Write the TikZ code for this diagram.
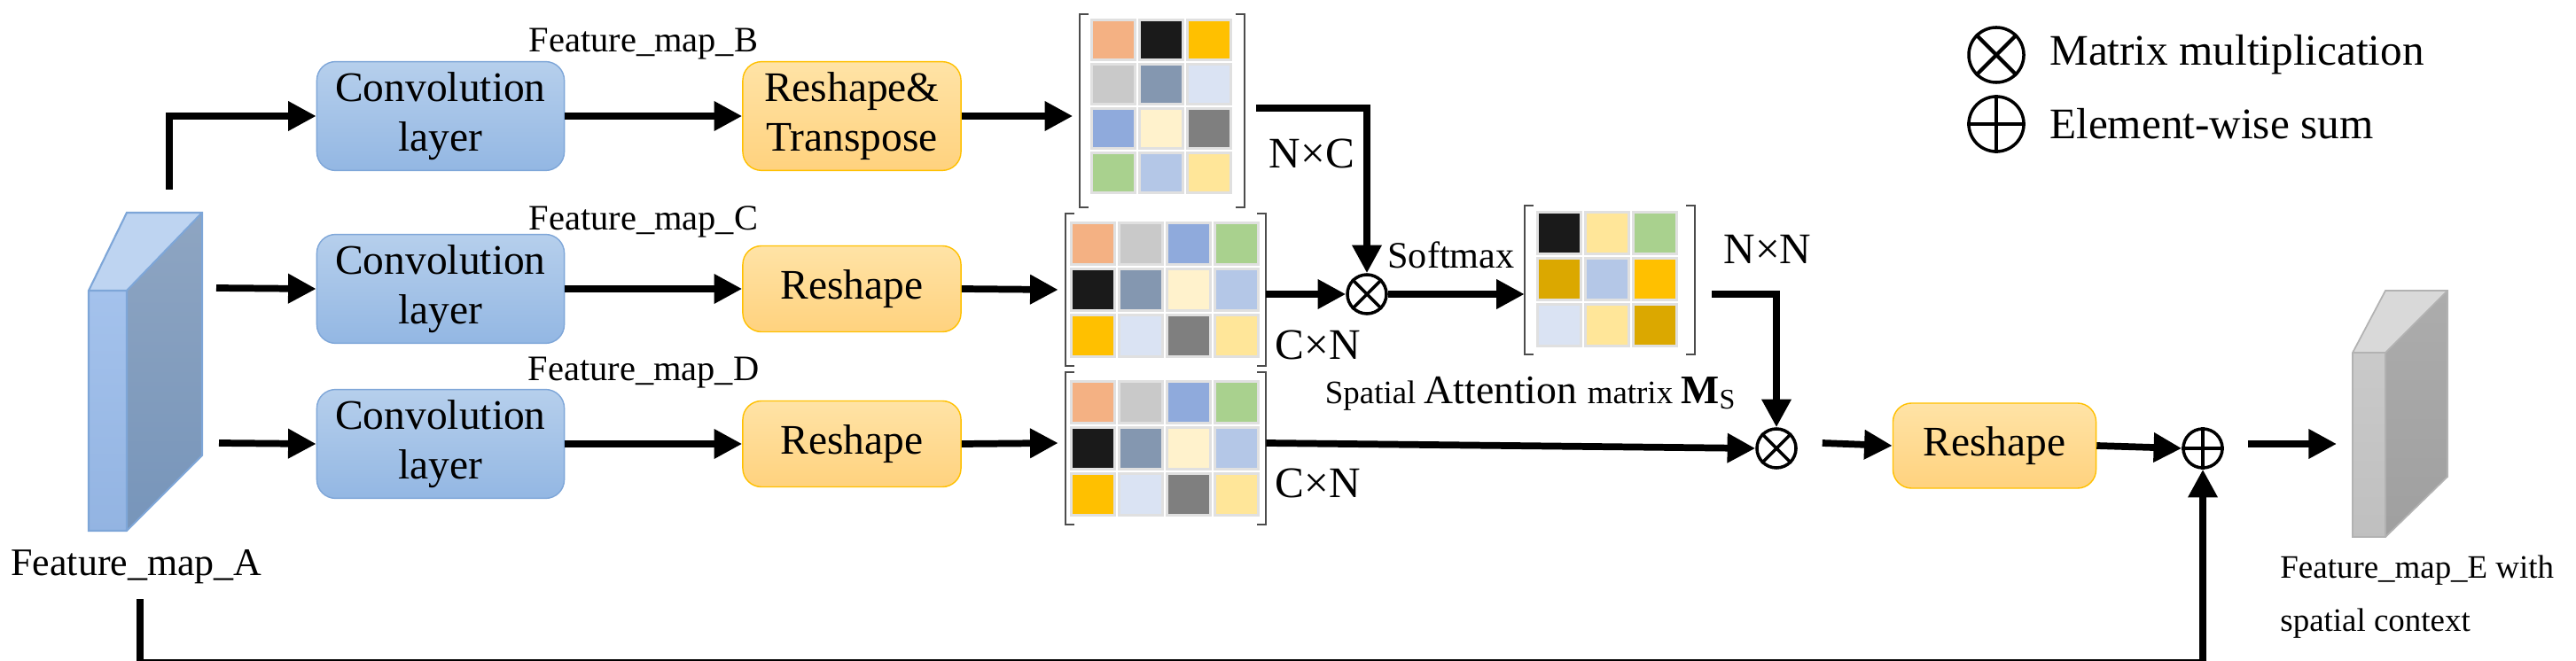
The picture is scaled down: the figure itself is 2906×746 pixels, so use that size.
\documentclass[tikz,border=0pt]{standalone}
\usepackage{fontspec}
\setmainfont{LiberationSerif}[Extension=.ttf,UprightFont=*-Regular,BoldFont=*-Bold,ItalicFont=*-Italic,BoldItalicFont=*-BoldItalic]
\usetikzlibrary{calc,arrows.meta,positioning}

\definecolor{cOr}{HTML}{F4B183}
\definecolor{cBk}{HTML}{1A1A1A}
\definecolor{cGd}{HTML}{FFC000}
\definecolor{cGy}{HTML}{C9C9C9}
\definecolor{cSl}{HTML}{8497B0}
\definecolor{cLb}{HTML}{DAE3F3}
\definecolor{cBl}{HTML}{8FAADC}
\definecolor{cCr}{HTML}{FFF2CC}
\definecolor{cDg}{HTML}{7F7F7F}
\definecolor{cGn}{HTML}{A9D18E}
\definecolor{cLu}{HTML}{B4C7E7}
\definecolor{cLy}{HTML}{FFE699}
\definecolor{cDo}{HTML}{DBA800}
\definecolor{convTop}{HTML}{B6CFEC}
\definecolor{convBot}{HTML}{93B7E3}
\definecolor{convLine}{HTML}{7EA6D8}
\definecolor{reshTop}{HTML}{FFE3A6}
\definecolor{reshBot}{HTML}{FFD27E}
\definecolor{slabTop}{HTML}{BED4F1}
\definecolor{slabFront}{HTML}{A4C2EC}
\definecolor{slabFrontB}{HTML}{93B4E2}
\definecolor{slabSideT}{HTML}{8EA5C2}
\definecolor{slabSideB}{HTML}{7795BA}

\tikzset{
  flow/.style={line width=2.2pt,-{Triangle[length=9pt,width=9pt]}},
  conv/.style={rounded corners=6pt,draw=convLine,top color=convTop,bottom color=convBot,
    minimum width=2.79cm,minimum height=0.97cm,font=\fontsize{13.5}{16}\selectfont,align=center},
  resh/.style={rounded corners=6pt,draw=cGd,top color=reshTop,bottom color=reshBot,
    minimum width=2.46cm,minimum height=0.97cm,font=\fontsize{13.5}{16}\selectfont,align=center},
  label/.style={font=\fontsize{11.5}{13}\selectfont},
  dim/.style={font=\fontsize{14}{16}\selectfont},
  op/.style={circle,draw,line width=1pt,minimum size=0.44cm,inner sep=0pt},
  bracket/.style={draw=black!70,line width=0.6pt},
  cell/.style={draw=black!12,line width=0.8pt},
}

\begin{document}
\begin{tikzpicture}[x=0.01cm,y=-0.01cm]
        \useasboundingbox (0,0) rectangle (2906,746);

        % Feature_map_A
        \fill[slabTop] (100,328) -- (143,240) -- (228,240) -- (143,328) -- cycle;
        \shade[top color=slabSideT,bottom color=slabSideB] (143,328) -- (228,240) -- (228,514) -- (143,599) -- cycle;
        \shade[top color=slabFront,bottom color=slabFrontB] (100,328) rectangle (143,599);
        \draw[convLine,line width=0.6pt] (100,328) -- (143,240) -- (228,240) -- (228,514) -- (143,599) -- (100,599) -- cycle (143,328) -- (228,240) (143,328) -- (100,328) (143,328) -- (143,599);
        \node (fmA) [label] at (154,640) {\fontsize{12.5}{14}\selectfont Feature\_map\_A};

        % branches
        \node (convB) [conv] at (497,131) {Convolution\\layer};
        \node (convC) [conv] at (497,326) {Convolution\\layer};
        \node (convD) [conv] at (497,501) {Convolution\\layer};
        \node (resB) [resh] at (961,131) {Reshape\&\\Transpose};
        \node (resC) [resh] at (961,326) {Reshape};
        \node (resD) [resh] at (961,501) {Reshape};
        \node [label] at (726,50) {Feature\_map\_B};
        \node [label] at (726,250) {Feature\_map\_C};
        \node [label] at (726,421) {Feature\_map\_D};

        % matrices
        \node (matB) [minimum width=1.84cm,minimum height=2.17cm,inner sep=0pt] at (1311,125) {};
        \node (matC) [minimum width=2.25cm,minimum height=1.71cm,inner sep=0pt] at (1315,327) {};
        \node (matD) [minimum width=2.25cm,minimum height=1.71cm,inner sep=0pt] at (1315,506) {};
        \node (matS) [minimum width=1.91cm,minimum height=1.67cm,inner sep=0pt] at (1816,316) {};
        \foreach \m in {matB,matC,matD,matS}{
          \draw[bracket] ($(\m.north west)+(10,0)$) -- (\m.north west) -- (\m.south west) -- ($(\m.south west)+(10,0)$);
          \draw[bracket] ($(\m.north east)+(-10,0)$) -- (\m.north east) -- (\m.south east) -- ($(\m.south east)+(-10,0)$);
        }
        % cells B (3x4)
        \foreach \r/\c/\col in {0/0/cOr,0/1/cBk,0/2/cGd,1/0/cGy,1/1/cSl,1/2/cLb,2/0/cBl,2/1/cCr,2/2/cDg,3/0/cGn,3/1/cLu,3/2/cLy}
          \filldraw[cell,fill=\col] ($(matB.north west)+(13+54*\c,7+50*\r)$) rectangle ++(49,45);
        % cells C, D (4x3)
        \foreach \m in {matC,matD}
          \foreach \r/\c/\col in {0/0/cOr,0/1/cGy,0/2/cBl,0/3/cGn,1/0/cBk,1/1/cSl,1/2/cCr,1/3/cLu,2/0/cGd,2/1/cLb,2/2/cDg,2/3/cLy}
            \filldraw[cell,fill=\col] ($(\m.north west)+(7+54*\c,11+52*\r)$) rectangle ++(49,47);
        % cells S (3x3)
        \foreach \r/\c/\col in {0/0/cBk,0/1/cLy,0/2/cGn,1/0/cDo,1/1/cLu,1/2/cGd,2/0/cLb,2/1/cLy,2/2/cDo}
          \filldraw[cell,fill=\col] ($(matS.north west)+(15+54*\c,8+52*\r)$) rectangle ++(49,47);

        \node [dim] at (1480,173) {N×C};
        \node [dim] at (1487,389) {C×N};
        \node [dim] at (1487,545) {C×N};
        \node [dim] at (1994,281) {N×N};
        \node [font=\fontsize{12}{14}\selectfont] at (1637,288) {Softmax};
        \node at (1727,444) {\fontsize{10.5}{12}\selectfont Spatial \fontsize{13}{15}\selectfont Attention \fontsize{10.5}{12}\selectfont matrix \fontsize{13}{15}\selectfont\textbf{M}\textsubscript{S}};

        % operators
        \node (mul1) [op] at (1542,332) {};
        \node (mul2) [op] at (2004,506) {};
        \node (sum) [op] at (2485,506) {};
        \foreach \o in {mul1,mul2}{
          \draw[line width=1pt] (\o.north west) -- (\o.south east) (\o.north east) -- (\o.south west);
        }
        \draw[line width=1pt] (sum.north) -- (sum.south) (sum.west) -- (sum.east);
        \node (reshE) [resh,minimum width=2.29cm,minimum height=0.96cm] at (2250,503) {Reshape};

        % Feature_map_E
        \fill[gray!30] (2654,398) -- (2691,328) -- (2761,328) -- (2691,398) -- cycle;
        \shade[top color=gray!65,bottom color=gray!75] (2691,398) -- (2761,328) -- (2761,538) -- (2691,606) -- cycle;
        \shade[top color=gray!42,bottom color=gray!50] (2654,398) rectangle (2691,606);
        \draw[gray!60,line width=0.5pt] (2654,398) -- (2691,328) -- (2761,328) -- (2761,538) -- (2691,606) -- (2654,606) -- cycle (2654,398) -- (2691,398) -- (2761,328) (2691,398) -- (2691,606);
        \node (fmE) [align=left,anchor=west,font=\fontsize{10.5}{17}\selectfont] at (2560,674) {Feature\_map\_E with\\spatial context};

        % arrows
        \coordinate (aB) at (191,214);
        \coordinate (aC) at (244,325);
        \coordinate (aD) at (247,500);
        \draw[flow] (aB) |- (convB.west);
        \draw[flow] (aC) -- (convC.west);
        \draw[flow] (aD) -- (convD.west);
        \draw[flow] (convB) -- (resB);
        \draw[flow] (convC) -- (resC);
        \draw[flow] (convD) -- (resD);
        \draw[flow] (resB.east) -- ($(matB.west)+(-8,6)$);
        \draw[flow] (resC.east) -- ($(matC.west)+(-8,0)$);
        \draw[flow] (resD.east) -- ($(matD.west)+(-8,-6)$);
        \draw[flow] ($(matB.east)+(13,-3)$) -| (mul1.north);
        \draw[flow] (mul1.west -| matC.east) -- (mul1.west);
        \draw[flow] (mul1.east) -- (mul1.east -| matS.west);
        \draw[flow] (mul1.east -| matS.east) ++(19,0) -| (mul2.north);
        \draw[flow] ($(matD.east)+(0,-6)$) -- (mul2.west);
        \draw[flow] ($(mul2.east)+(28,-6)$) -- (reshE.west);
        \draw[flow] (reshE.east) -- (sum.west);
        \coordinate (toE) at (2636,501);
        \draw[flow] ($(sum.east)+(27,-5)$) -- (toE);
        \coordinate (skip) at (158,676);
        \draw[flow] (skip) |- ($(sum.south)+(0,218)$) -- (sum.south);

        % legend
        \node (lgMul) [op,minimum size=0.62cm] at (2252,62) {};
        \draw[line width=1.2pt] (lgMul.north west) -- (lgMul.south east) (lgMul.north east) -- (lgMul.south west);
        \node (lgSum) [op,minimum size=0.62cm] at (2252,140) {};
        \draw[line width=1.2pt] (lgSum.north) -- (lgSum.south) (lgSum.west) -- (lgSum.east);
        \node [right=0.15cm of lgMul,font=\fontsize{14}{16}\selectfont] {Matrix multiplication};
        \node [right=0.15cm of lgSum,font=\fontsize{14}{16}\selectfont] {Element-wise sum};
\end{tikzpicture}
\end{document}
